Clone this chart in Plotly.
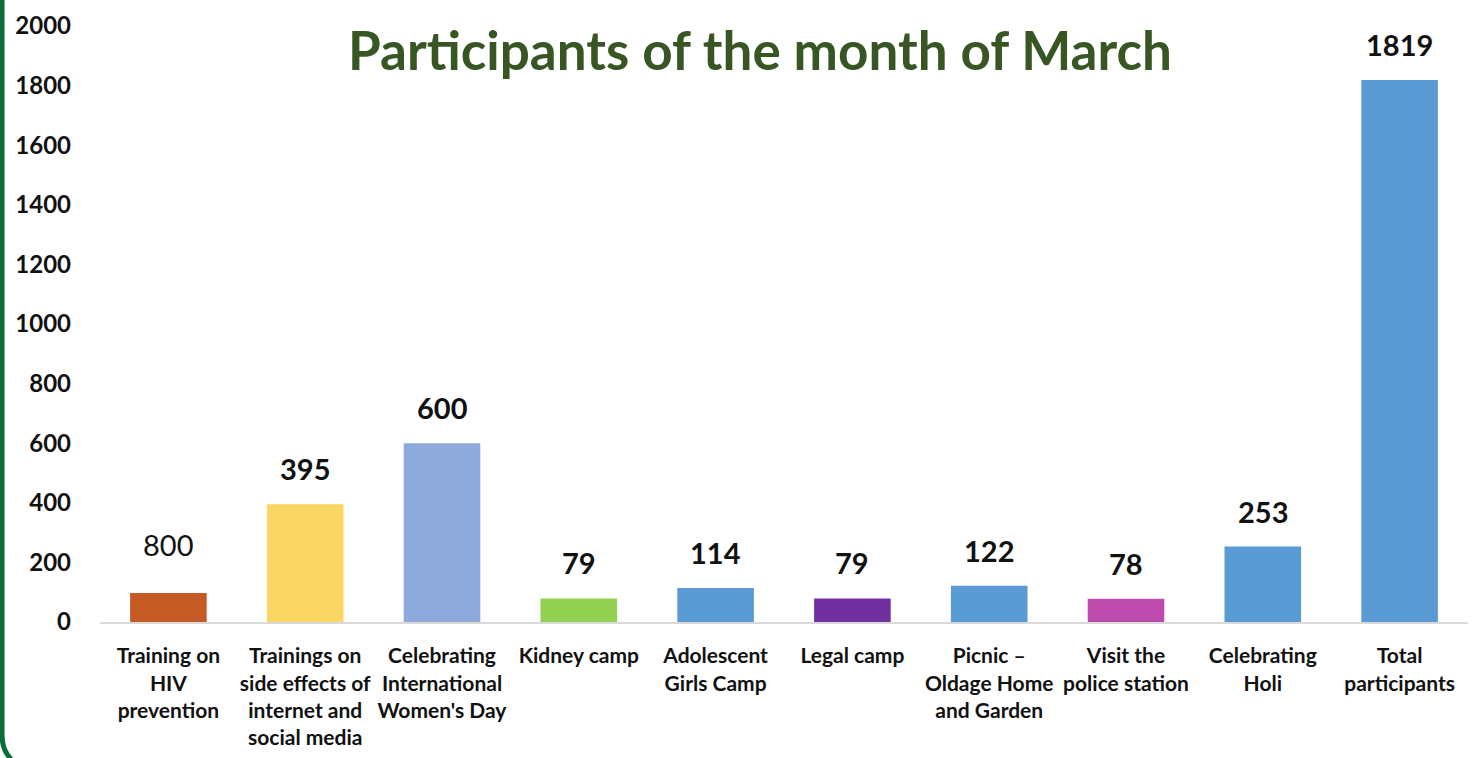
import plotly.graph_objects as go

categories = [
    "Training on<br>HIV<br>prevention",
    "Trainings on<br>side effects of<br>internet and<br>social media",
    "Celebrating<br>International<br>Women's Day",
    "Kidney camp",
    "Adolescent<br>Girls Camp",
    "Legal camp",
    "Picnic –<br>Oldage Home<br>and Garden",
    "Visit the<br>police station",
    "Celebrating<br>Holi",
    "Total<br>participants",
]
values = [97, 395, 600, 79, 114, 79, 122, 78, 253, 1819]
value_labels = ["800", "395", "600", "79", "114", "79", "122", "78", "253", "1819"]
colors = ["#C55A24", "#FAD662", "#8EA9DB", "#92D050", "#5B9BD5",
          "#7030A0", "#5B9BD5", "#BE4BAE", "#5B9BD5", "#5B9BD5"]
y_ticks = [0, 200, 400, 600, 800, 1000, 1200, 1400, 1600, 1800, 2000]

FONT = "Lato"

fig = go.Figure()
fig.add_trace(go.Bar(
    x=categories, y=values,
    marker=dict(color=colors, line=dict(width=0)),
    width=0.56,
    hoverinfo="x+y",
))

for c, v, t in zip(categories, values, value_labels):
    fig.add_annotation(
        x=c, y=v, text=t, showarrow=False, yanchor="bottom",
        yshift=16 if t != "800" else 29,
        font=dict(family=FONT, size=29, color="#111111",
                  weight="normal" if t == "800" else "bold"),
    )

fig.add_annotation(
    xref="paper", yref="paper", x=0.4825, y=0.96, xanchor="center", yanchor="middle",
    text="<b>Participants of the month of March</b>", showarrow=False,
    font=dict(family=FONT, size=53, color="#375623"),
)

# green card border on the left
fig.add_shape(
    type="path", xref="paper", yref="paper",
    path="M -0.0716,1.05 L -0.0716,-0.19 Q -0.0716,-0.215 -0.065,-0.23",
    line=dict(color="#0B6E3A", width=5),
)

fig.update_layout(
    width=1477, height=758,
    margin=dict(l=100, r=9, t=26, b=136),
    paper_bgcolor="white", plot_bgcolor="white",
    showlegend=False,
    font=dict(family=FONT, color="#111111"),
)
fig.update_xaxes(
    showline=True, linecolor="#D9D9D9", linewidth=2,
    showgrid=False, ticks="",
    tickfont=dict(family=FONT, size=21, color="#111111", weight="bold"),
    tickangle=0,
    ticklabelstandoff=14,
    automargin=False,
)
fig.update_yaxes(
    range=[0, 2000], tickvals=y_ticks,
    showgrid=False, zeroline=False, showline=False, ticks="",
    tickfont=dict(family=FONT, size=24, color="#111111", weight="bold"),
    ticklabelstandoff=28,
    automargin=False,
)

fig.write_html("out.html", config={"displayModeBar": False},
               post_script="document.body.style.margin='0';")
